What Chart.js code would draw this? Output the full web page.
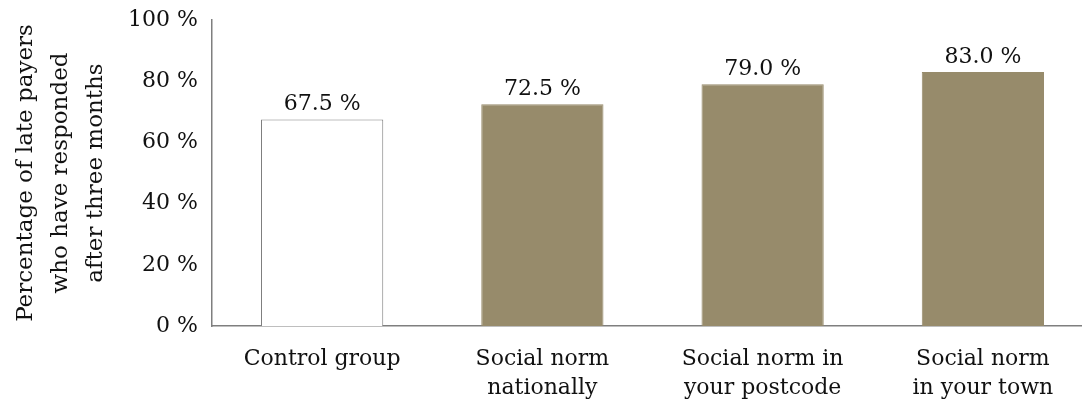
<!DOCTYPE html>
<html>
<head>
<meta charset="utf-8">
<script src="https://cdn.jsdelivr.net/npm/chart.js@4/dist/chart.umd.min.js"></script>
<style>
  html, body { margin: 0; padding: 0; background: #fff; overflow: hidden; }
  #wrap { width: 1093px; height: 401px; }
</style>
</head>
<body>
<div id="wrap"><canvas id="c"></canvas></div>
<script>
// data
const categories = [
  'Control group',
  ['Social norm', 'nationally'],
  ['Social norm in', 'your postcode'],
  ['Social norm', 'in your town']
];
const responded = [67.5, 72.5, 79.0, 83.0];
const barColors = ['#ffffff', '#978b6b', '#978b6b', '#978b6b'];
const barBorders = ['#7f7f7f', '#978b6b', '#978b6b', '#978b6b'];
const yTitle = ['Percentage of late payers', 'who have responded', 'after three months'];

const FONT = 'DejaVu Serif';

// value labels above bars
const valueLabels = {
  id: 'valueLabels',
  afterDatasetsDraw(chart) {
    const { ctx } = chart;
    const meta = chart.getDatasetMeta(0);
    ctx.save();
    ctx.font = '22px "' + FONT + '"';
    ctx.fillStyle = '#111';
    ctx.textAlign = 'center';
    ctx.textBaseline = 'bottom';
    meta.data.forEach((bar, i) => {
      ctx.fillText(responded[i].toFixed(1) + ' %', bar.x, bar.y - 4);
    });
    ctx.restore();
  }
};

new Chart(document.getElementById('c'), {
  type: 'bar',
  data: {
    labels: categories,
    datasets: [{
      data: responded,
      backgroundColor: barColors,
      borderColor: barBorders,
      borderWidth: 1,
      barPercentage: 0.555,
      categoryPercentage: 1.0
    }]
  },
  options: {
    responsive: true, maintainAspectRatio: false, animation: false,
    layout: { padding: { top: 20, right: 0, bottom: 0, left: 0 } },
    plugins: { legend: { display: false }, tooltip: { enabled: false } },
    scales: {
      x: {
        grid: { display: false, drawTicks: false },
        border: { display: true, color: '#7f7f7f', width: 1.5 },
        ticks: { color: '#111', font: { size: 22, family: FONT, lineHeight: 1.35 }, padding: 18, maxRotation: 0, autoSkip: false },
        afterFit(scale) { scale.height = 75; }
      },
      y: {
        min: 0, max: 100,
        grid: { display: false, drawTicks: false },
        border: { display: true, color: '#7f7f7f', width: 1.5 },
        ticks: { stepSize: 20, color: '#111', font: { size: 22, family: FONT }, padding: 14, callback: v => v + ' %' },
        title: { display: true, text: yTitle, color: '#111', font: { size: 23, family: FONT, lineHeight: 1.52 }, padding: { top: 9, bottom: 0 } },
        afterFit(scale) { scale.width = 212; scale.paddingTop = 0; scale.paddingBottom = 0; }
      }
    }
  },
  plugins: [valueLabels]
});
</script>
</body>
</html>
